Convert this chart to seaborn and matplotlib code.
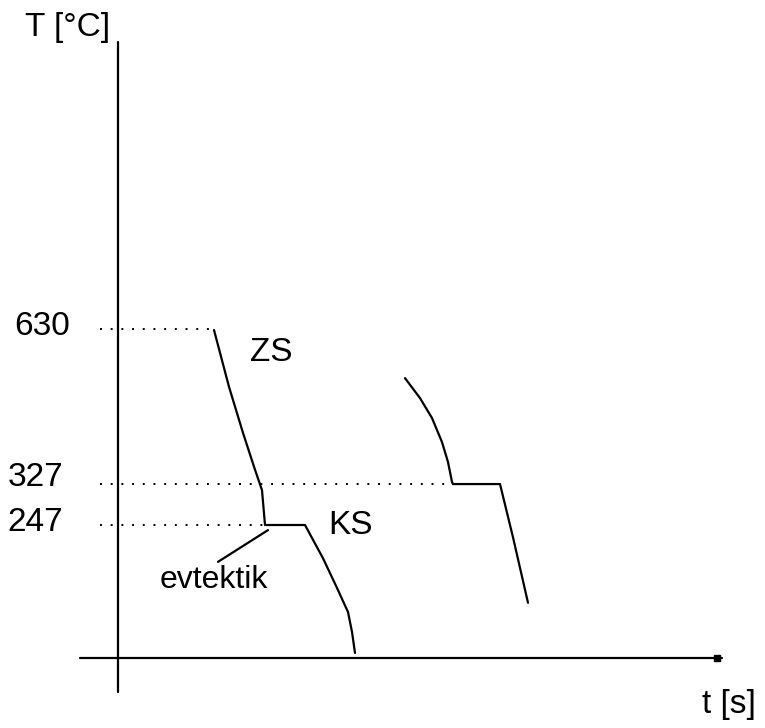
import numpy as np
import pandas as pd
import matplotlib
matplotlib.use('Agg')
import matplotlib.pyplot as plt
import seaborn as sns

# cooling curves, t [s] (arbitrary) and T [°C]
t_zs = [96, 111, 125, 137, 144, 147, 187, 205, 219, 230, 234, 237]
T_zs = [628, 517, 427, 355, 315, 247, 247, 182, 124, 77, 38, -3]

t_pb = [287, 302, 314, 324, 330, 334, 335, 382, 395, 410]
T_pb = [534, 495, 456, 409, 370, 331, 327, 327, 223, 95]

levels = [630, 327, 247]
level_ends = [97, 335, 147]
level_labels = ['630', '327', '247']

sns.set_style('white')
plt.rcParams['font.family'] = ['Liberation Sans', 'DejaVu Sans']
plt.rcParams['text.color'] = 'black'

fig = plt.figure(figsize=(7.65, 7.28), dpi=100)
ax = fig.add_axes([0, 0, 1, 1])

# pixel -> data scale: t = px - 118, T = 247 + (525 - py) * 1.954
k = 1.954
ax.set_xlim(-118, 765 - 118)
ax.set_ylim(247 - (728 - 525) * k, 247 + 525 * k)
ax.axis('off')

t_axis_T = 247 - (658 - 525) * k

# axes
ax.plot([0, 0], [247 + (525 - 42) * k, 247 - (692 - 525) * k], color='black', lw=1.6)
ax.plot([-38, 604], [t_axis_T, t_axis_T], color='black', lw=1.6)
ax.plot([599], [t_axis_T], marker='s', color='black', ms=4)

# dotted guide lines
for T, te in zip(levels, level_ends):
    ax.plot([-18, te], [T, T], color='black', lw=1.4, linestyle=(0, (1, 4.5)))

d1 = pd.DataFrame({'t': t_zs, 'T': T_zs})
d2 = pd.DataFrame({'t': t_pb, 'T': T_pb})
sns.lineplot(data=d1, x='t', y='T', sort=False, color='black', lw=1.6, ax=ax)
sns.lineplot(data=d2, x='t', y='T', sort=False, color='black', lw=1.6, ax=ax)

# eutectic pointer
ax.plot([100, 150], [175, 237], color='black', lw=1.6)

fs = 24
ax.text(-48, 634, '630', ha='right', va='center', fontsize=fs)
ax.text(-55, 340, '327', ha='right', va='center', fontsize=fs)
ax.text(-55, 252, '247', ha='right', va='center', fontsize=fs)
ax.text(-93, 1220, 'T [°C]', ha='left', va='center', fontsize=fs)
ax.text(584, 247 - (704 - 525) * k, 't [s]', ha='left', va='center', fontsize=fs)
ax.text(132, 247 + (525 - 352) * k, 'ZS', ha='left', va='center', fontsize=fs)
ax.text(210, 247 + (525 - 526) * k, 'KS', ha='left', va='center', fontsize=fs)
ax.text(42, 247 - (580 - 525) * k, 'evtektik', ha='left', va='center', fontsize=23)

fig.savefig('out.png', dpi=100)
